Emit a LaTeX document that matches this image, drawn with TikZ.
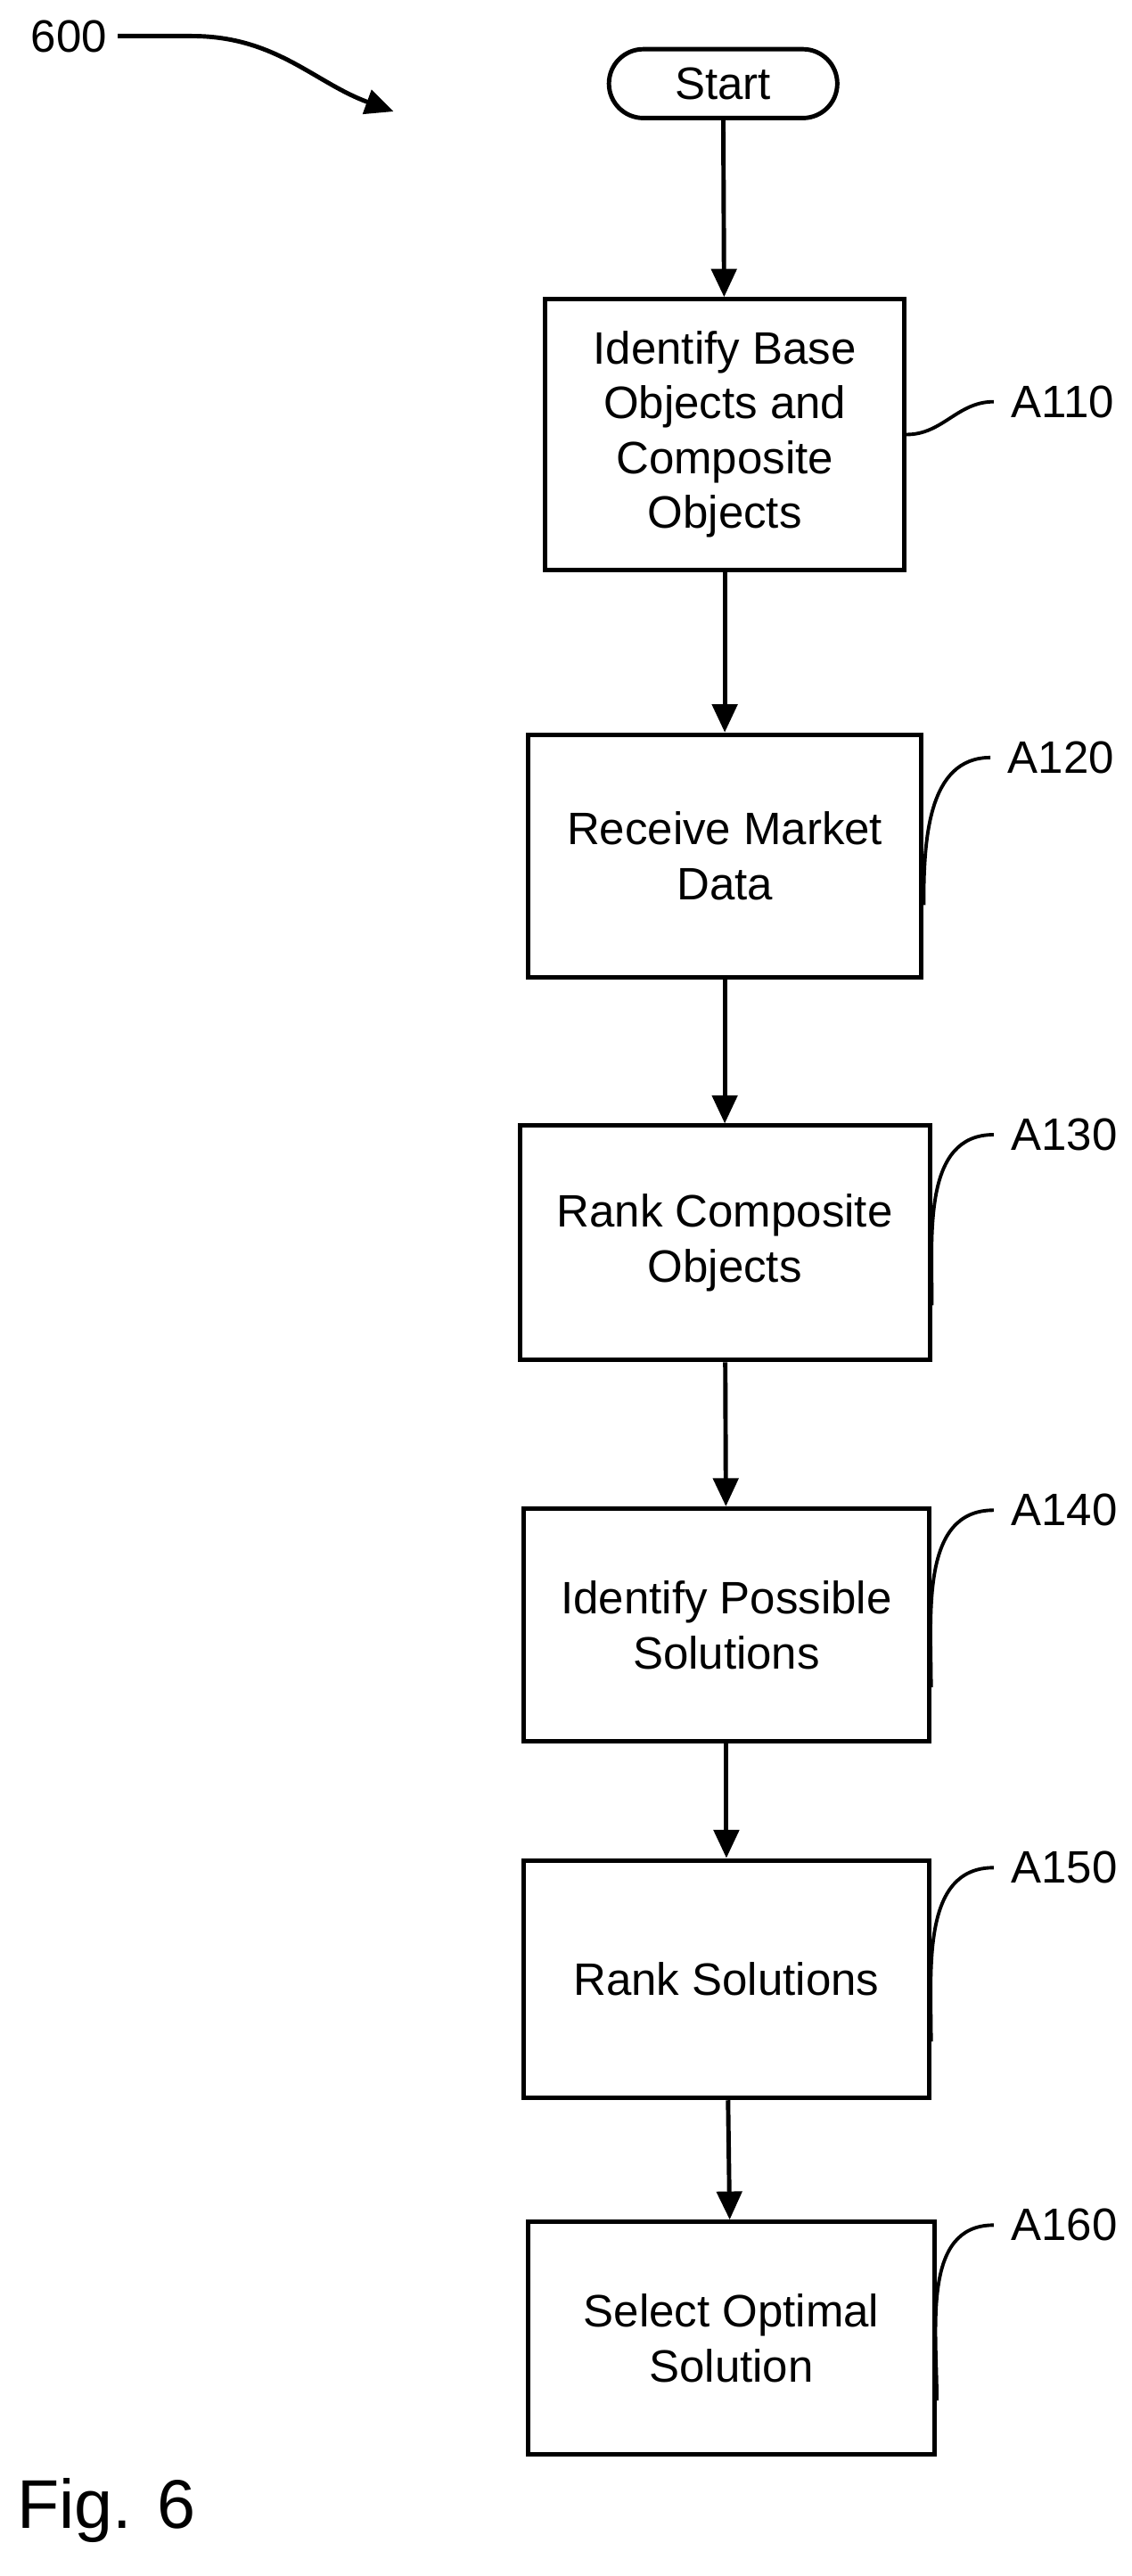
\documentclass[tikz,border=0pt]{standalone}
\usepackage{fontspec}
\setmainfont{Liberation Sans}
\usetikzlibrary{arrows.meta,positioning,shapes.misc}

\begin{document}
\begin{tikzpicture}[
    x=0.01839cm, y=-0.01839cm,
    every node/.style={font=\fontsize{14.5}{17.5}\selectfont},
    process/.style={rectangle, draw, line width=1.4pt, align=center, inner sep=0pt},
    term/.style={rounded rectangle, draw, line width=1.4pt, minimum width=152*0.01839cm, minimum height=42*0.01839cm},
    arrow/.style={-{Triangle[length=9pt,width=8pt]}, line width=1.4pt},
    leader/.style={line width=1.1pt}
]
\useasboundingbox (0,0) rectangle (690,1571);

\node[term] (start) at (441,51) {Start};

\node[process, minimum width=219*0.01839cm, minimum height=165*0.01839cm] (idobj) at (442,265) {Identify Base\\Objects and\\Composite\\Objects};
\node[process, minimum width=240*0.01839cm, minimum height=148*0.01839cm] (market) at (442,522) {Receive Market\\Data};
\node[process, minimum width=250*0.01839cm, minimum height=143*0.01839cm] (rankco) at (442,758) {Rank Composite\\Objects};
\node[process, minimum width=247*0.01839cm, minimum height=142*0.01839cm] (idsol) at (443,991) {Identify Possible\\Solutions};
\node[process, minimum width=247*0.01839cm, minimum height=145*0.01839cm] (ranksol) at (443,1207) {Rank Solutions};
\node[process, minimum width=248*0.01839cm, minimum height=142*0.01839cm] (select) at (446,1426) {Select Optimal\\Solution};

\draw[arrow] (start) -- (idobj);
\draw[arrow] (idobj) -- (market);
\draw[arrow] (market) -- (rankco);
\draw[arrow] (rankco) -- (idsol);
\draw[arrow] (idsol) -- (ranksol);
\draw[arrow] (ranksol) -- (select);

% reference labels
\node[anchor=west] (l110) at (610,245) {A110};
\node[anchor=west] (l120) at (608,462) {A120};
\node[anchor=west] (l130) at (610,692) {A130};
\node[anchor=west] (l140) at (610,921) {A140};
\node[anchor=west] (l150) at (610,1139) {A150};
\node[anchor=west] (l160) at (610,1357) {A160};

\draw[leader] (idobj.east) to[out=0,in=180] ([xshift=-4*0.01839cm]l110.west);
\draw[leader] ([yshift=-30*0.01839cm]market.east) to[out=90,in=180] ([xshift=-4*0.01839cm]l120.west);
\draw[leader] ([yshift=-38*0.01839cm]rankco.east) to[out=90,in=180] ([xshift=-4*0.01839cm]l130.west);
\draw[leader] ([yshift=-38*0.01839cm]idsol.east) to[out=90,in=180] ([xshift=-4*0.01839cm]l140.west);
\draw[leader] ([yshift=-38*0.01839cm]ranksol.east) to[out=90,in=180] ([xshift=-4*0.01839cm]l150.west);
\draw[leader] ([yshift=-38*0.01839cm]select.east) to[out=90,in=180] ([xshift=-4*0.01839cm]l160.west);

% figure number
\node (ref) at (42,22) {600};
\coordinate (refend) at (240,68);
\draw[arrow] (ref.east) -- ++(45,0) to[out=0,in=160] (refend);

\node[font=\fontsize{22}{26}\selectfont] (fig) at (65,1531) {Fig. 6};
\end{tikzpicture}
\end{document}
